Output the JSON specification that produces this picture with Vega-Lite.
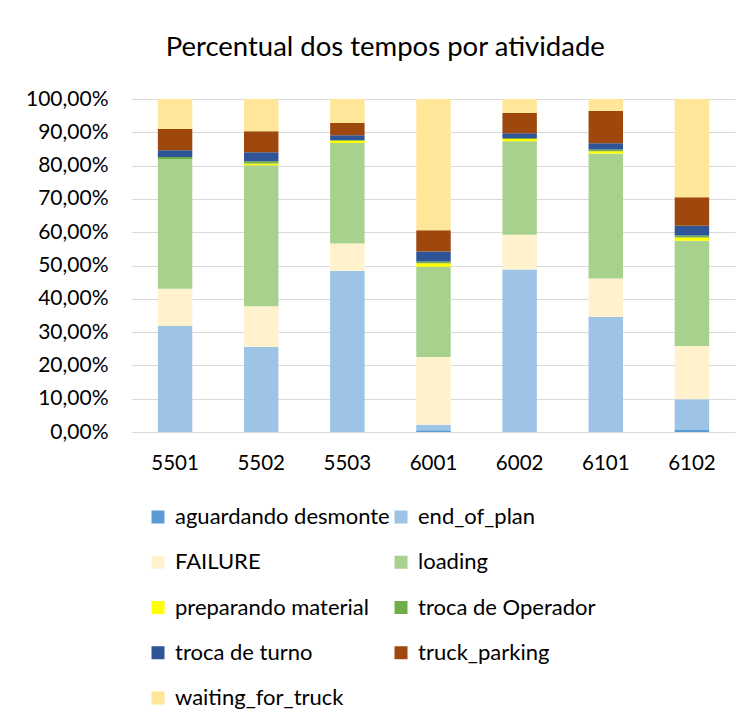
{
  "$schema": "https://vega.github.io/schema/vega-lite/v6.json",
  "width": 603,
  "height": 333,
  "autosize": {"type": "none"},
  "padding": {"left": 132, "top": 99, "right": 16, "bottom": 292},
  "background": "white",
  "title": {
    "text": "Percentual dos tempos por atividade",
    "font": "Lato",
    "fontSize": 27.5,
    "fontWeight": "normal",
    "color": "#000000",
    "anchor": "middle",
    "frame": "bounds",
    "offset": 27,
    "dx": 5
  },
  "config": {
    "view": {"stroke": null},
    "font": "Lato"
  },
  "data": {
    "values": [
      {"unit": "5501", "cat": "aguardando desmonte", "pct": 0},
      {"unit": "5501", "cat": "end_of_plan", "pct": 31.8},
      {"unit": "5501", "cat": "FAILURE", "pct": 11.2},
      {"unit": "5501", "cat": "loading", "pct": 39.0},
      {"unit": "5501", "cat": "preparando material", "pct": 0},
      {"unit": "5501", "cat": "troca de Operador", "pct": 0.6},
      {"unit": "5501", "cat": "troca de turno", "pct": 2.0},
      {"unit": "5501", "cat": "truck_parking", "pct": 6.4},
      {"unit": "5501", "cat": "waiting_for_truck", "pct": 9.0},

      {"unit": "5502", "cat": "aguardando desmonte", "pct": 0},
      {"unit": "5502", "cat": "end_of_plan", "pct": 25.5},
      {"unit": "5502", "cat": "FAILURE", "pct": 12.3},
      {"unit": "5502", "cat": "loading", "pct": 42.3},
      {"unit": "5502", "cat": "preparando material", "pct": 0.5},
      {"unit": "5502", "cat": "troca de Operador", "pct": 0.7},
      {"unit": "5502", "cat": "troca de turno", "pct": 2.7},
      {"unit": "5502", "cat": "truck_parking", "pct": 6.3},
      {"unit": "5502", "cat": "waiting_for_truck", "pct": 9.7},

      {"unit": "5503", "cat": "aguardando desmonte", "pct": 0},
      {"unit": "5503", "cat": "end_of_plan", "pct": 48.4},
      {"unit": "5503", "cat": "FAILURE", "pct": 8.2},
      {"unit": "5503", "cat": "loading", "pct": 30.2},
      {"unit": "5503", "cat": "preparando material", "pct": 0.7},
      {"unit": "5503", "cat": "troca de Operador", "pct": 0.2},
      {"unit": "5503", "cat": "troca de turno", "pct": 1.4},
      {"unit": "5503", "cat": "truck_parking", "pct": 3.7},
      {"unit": "5503", "cat": "waiting_for_truck", "pct": 7.2},

      {"unit": "6001", "cat": "aguardando desmonte", "pct": 0.5},
      {"unit": "6001", "cat": "end_of_plan", "pct": 1.7},
      {"unit": "6001", "cat": "FAILURE", "pct": 20.3},
      {"unit": "6001", "cat": "loading", "pct": 27.1},
      {"unit": "6001", "cat": "preparando material", "pct": 1.1},
      {"unit": "6001", "cat": "troca de Operador", "pct": 0.5},
      {"unit": "6001", "cat": "troca de turno", "pct": 3.0},
      {"unit": "6001", "cat": "truck_parking", "pct": 6.4},
      {"unit": "6001", "cat": "waiting_for_truck", "pct": 39.4},

      {"unit": "6002", "cat": "aguardando desmonte", "pct": 0},
      {"unit": "6002", "cat": "end_of_plan", "pct": 48.8},
      {"unit": "6002", "cat": "FAILURE", "pct": 10.4},
      {"unit": "6002", "cat": "loading", "pct": 28.1},
      {"unit": "6002", "cat": "preparando material", "pct": 0.7},
      {"unit": "6002", "cat": "troca de Operador", "pct": 0.3},
      {"unit": "6002", "cat": "troca de turno", "pct": 1.4},
      {"unit": "6002", "cat": "truck_parking", "pct": 6.1},
      {"unit": "6002", "cat": "waiting_for_truck", "pct": 4.2},

      {"unit": "6101", "cat": "aguardando desmonte", "pct": 0},
      {"unit": "6101", "cat": "end_of_plan", "pct": 34.5},
      {"unit": "6101", "cat": "FAILURE", "pct": 11.6},
      {"unit": "6101", "cat": "loading", "pct": 37.5},
      {"unit": "6101", "cat": "preparando material", "pct": 0.7},
      {"unit": "6101", "cat": "troca de Operador", "pct": 0.5},
      {"unit": "6101", "cat": "troca de turno", "pct": 1.9},
      {"unit": "6101", "cat": "truck_parking", "pct": 9.7},
      {"unit": "6101", "cat": "waiting_for_truck", "pct": 3.6},

      {"unit": "6102", "cat": "aguardando desmonte", "pct": 0.6},
      {"unit": "6102", "cat": "end_of_plan", "pct": 9.2},
      {"unit": "6102", "cat": "FAILURE", "pct": 16.0},
      {"unit": "6102", "cat": "loading", "pct": 31.6},
      {"unit": "6102", "cat": "preparando material", "pct": 1.0},
      {"unit": "6102", "cat": "troca de Operador", "pct": 0.6},
      {"unit": "6102", "cat": "troca de turno", "pct": 2.9},
      {"unit": "6102", "cat": "truck_parking", "pct": 8.6},
      {"unit": "6102", "cat": "waiting_for_truck", "pct": 29.5}
    ]
  },
  "transform": [
    {"calculate": "indexof(['aguardando desmonte', 'end_of_plan', 'FAILURE', 'loading', 'preparando material', 'troca de Operador', 'troca de turno', 'truck_parking', 'waiting_for_truck'], datum.cat)", "as": "stackOrder"}
  ],
  "mark": {"type": "bar"},
  "encoding": {
    "x": {
      "field": "unit",
      "type": "nominal",
      "sort": null,
      "scale": {"paddingInner": 0.6, "paddingOuter": 0.3},
      "axis": {
        "title": null,
        "labelAngle": 0,
        "labelFont": "Lato",
        "labelFontSize": 20.5,
        "labelColor": "#000000",
        "labelPadding": 21,
        "ticks": false,
        "tickSize": 0,
        "domain": false,
        "grid": false
      }
    },
    "y": {
      "field": "pct",
      "type": "quantitative",
      "stack": "zero",
      "scale": {"domain": [0, 100], "nice": false},
      "axis": {
        "title": null,
        "values": [0, 10, 20, 30, 40, 50, 60, 70, 80, 90, 100],
        "labelExpr": "replace(format(datum.value / 100, '.2%'), '.', ',')",
        "labelFont": "Lato",
        "labelFontSize": 21,
        "labelColor": "#000000",
        "labelPadding": 24,
        "ticks": false,
        "tickSize": 0,
        "domain": false,
        "grid": true,
        "gridColor": "#D9D9D9",
        "gridWidth": 1.2
      }
    },
    "order": {"field": "stackOrder", "type": "quantitative", "sort": "ascending"},
    "color": {
      "field": "cat",
      "type": "nominal",
      "sort": ["aguardando desmonte", "end_of_plan", "FAILURE", "loading", "preparando material", "troca de Operador", "troca de turno", "truck_parking", "waiting_for_truck"],
      "scale": {
        "domain": ["aguardando desmonte", "end_of_plan", "FAILURE", "loading", "preparando material", "troca de Operador", "troca de turno", "truck_parking", "waiting_for_truck"],
        "range": ["#5B9BD5", "#9DC3E6", "#FFF2CC", "#A9D18E", "#FFFF00", "#70AD47", "#2F5597", "#9E480E", "#FFE699"]
      },
      "legend": {
        "title": null,
        "orient": "none",
        "direction": "horizontal",
        "legendX": 15,
        "legendY": 407,
        "columns": 2,
        "columnPadding": -2,
        "rowPadding": 23.25,
        "padding": 0,
        "symbolType": "square",
        "symbolSize": 169,
        "symbolStrokeWidth": 0,
        "symbolOpacity": 1,
        "labelFont": "Lato",
        "labelFontSize": 22,
        "labelColor": "#000000",
        "labelOffset": 6,
        "labelLimit": 400
      }
    }
  }
}
